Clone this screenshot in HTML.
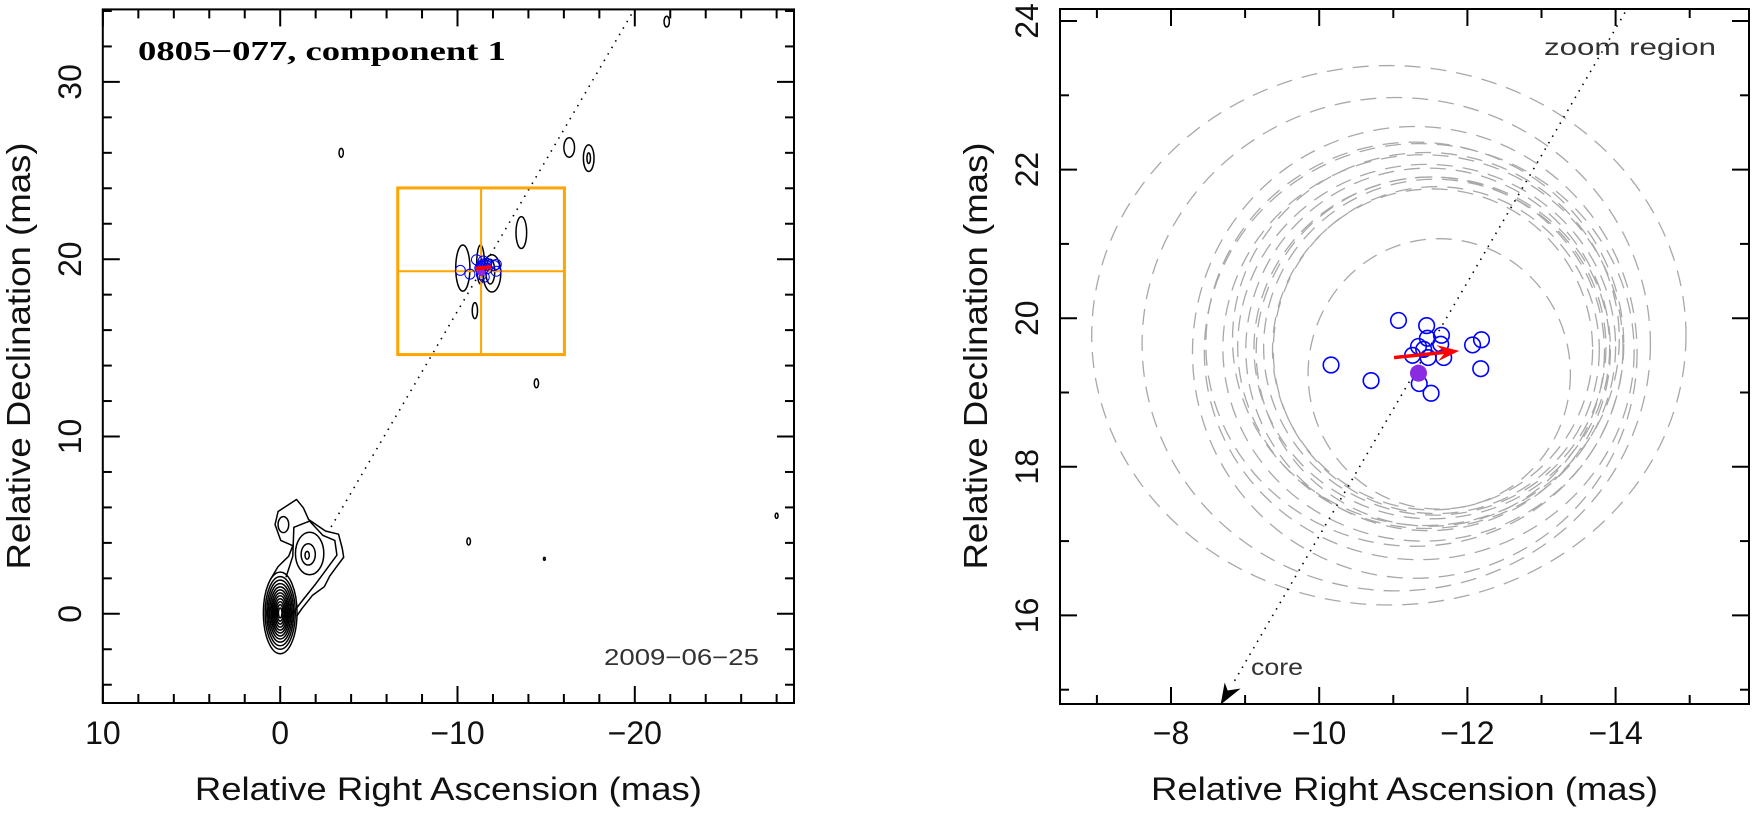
<!DOCTYPE html>
<html><head><meta charset="utf-8">
<style>
html,body{margin:0;padding:0;background:#fff;}
svg{display:block;font-family:"Liberation Sans",sans-serif;}
</style></head>
<body>
<svg id="fig" width="1753" height="817" viewBox="0 0 1753 817" xmlns="http://www.w3.org/2000/svg">
<g id="left"></g>
<g id="right"></g>
</svg>
<script>
// ---- data ----
const blueRA  = [-11.07,-11.45,-11.46,-11.65,-11.64,-11.34,-11.41,-11.26,-11.47,-11.68,-12.07,-12.19,-12.18,-10.16,-10.70,-11.35,-11.51];
const blueDec = [19.97,19.90,19.73,19.77,19.65,19.62,19.58,19.50,19.47,19.47,19.64,19.71,19.32,19.37,19.16,19.12,18.99];
const meanPos = [-11.34, 19.26];
const arrowFrom = [-11.01, 19.47];
const arrowTo = [-11.89, 19.56];
const ellRA  = [-10.94,-11.04,-11.29,-11.29,-11.44,-11.47,-11.56,-11.53,-11.62,-11.40,-11.50,-11.45,-11.52,-11.35,-11.58];
const ellDec = [19.77,19.65,19.54,19.65,19.72,19.58,19.61,19.58,19.25,19.60,19.55,19.62,19.60,19.55,19.57];
const ellRx  = [4.01,3.43,3.00,2.82,2.61,2.46,2.31,2.16,1.77,2.70,2.35,2.55,2.40,2.90,2.20];
const ellRy  = [3.63,3.32,3.04,2.72,2.51,2.44,2.26,2.16,1.82,2.60,2.35,2.45,2.30,2.80,2.20];
const jetDecPerRA = -1.707;
const boxCenter = [-11.33, 19.32];
const boxHalf = 4.7;
const leftXTicks = [10,0,-10,-20];
const leftYTicks = [0,10,20,30];
const rightXTicks = [-8,-10,-12,-14];
const rightYTicks = [16,18,20,22,24];
// contour polylines (RA, Dec)
const jetOuter = [[0.56,1.92],[0.12,2.66],[-0.48,3.25],[-0.71,3.84],[-0.03,4.14],[0.29,5.03],[0.12,5.77],[-0.92,6.45],[-1.31,5.97],[-1.60,5.32],[-2.55,4.67],[-3.29,4.49],[-3.50,3.69],[-3.58,3.19],[-3.14,2.60],[-2.79,2.12],[-2.49,1.53],[-1.81,1.03],[-1.22,0.29],[-0.92,-0.15]];
const jetInner = [[-0.33,2.07],[-0.71,3.25],[-0.77,4.88],[-1.66,5.23],[-2.40,4.43],[-3.08,4.14],[-3.20,3.31],[-2.61,2.51],[-2.02,1.71],[-1.31,0.82],[-0.71,0.05]];
// blobs: ra, dec, rx, ry
const blobRA  = [-1.66,-1.58,-1.52,-0.18,-10.30,-11.94,-11.85,-11.30,-10.98,-13.60,-16.30,-17.40,-17.40,-21.80,-3.44,-14.45,-10.63,-14.90,-28.00];
const blobDec = [3.40,3.35,3.30,5.03,19.50,19.20,19.30,19.70,17.10,21.50,26.30,25.70,25.70,33.40,26.00,13.00,4.08,3.10,5.53];
const blobRx  = [0.80,0.40,0.12,0.30,0.40,0.50,0.25,0.22,0.15,0.30,0.30,0.30,0.10,0.15,0.12,0.12,0.10,0.05,0.08];
const blobRy  = [1.20,0.60,0.22,0.45,1.30,1.05,0.70,1.10,0.45,0.90,0.55,0.75,0.30,0.30,0.25,0.25,0.20,0.08,0.15];
const coreRx = [0.95,0.85,0.76,0.68,0.60,0.52,0.45,0.38,0.31,0.24,0.17,0.10];
const coreRy = [2.30,2.05,1.85,1.65,1.47,1.30,1.13,0.97,0.80,0.63,0.46,0.28];

const NS="http://www.w3.org/2000/svg";
function mk(tag, attrs, parent, txt){
  const e=document.createElementNS(NS,tag);
  for(const k in attrs) e.setAttribute(k,attrs[k]);
  if(txt!==undefined) e.textContent=txt;
  parent.appendChild(e); return e;
}
// ---- scales ----
const L={x0:102.8,x1:794,y0:9.4,y1:703,sx:v=>280.2-v*17.73,sy:v=>613.8-v*17.73,k:17.73};
const R={x0:1060,x1:1749,y0:9,y1:704,sx:v=>1171-(v+8)*74.1,sy:v=>21+(24-v)*74.3,kx:74.1,ky:74.3};

function axes(g,P,xt,yt,xmin,xmax,ymin,ymax,majX,majY,step){
  const a=mk('g',{},g);
  
  
  for(let v=Math.ceil(xmin/step)*step; v<=xmax+1e-9; v+=step){
    const x=P.sx(v), big=Math.abs(v/majX-Math.round(v/majX))<1e-6, len=big?17:9;
    mk('line',{x1:x,x2:x,y1:P.y1,y2:P.y1-len,stroke:'#000','stroke-width':2},a);
    mk('line',{x1:x,x2:x,y1:P.y0,y2:P.y0+len,stroke:'#000','stroke-width':2},a);
  }
  for(let v=Math.ceil(ymin/step)*step; v<=ymax+1e-9; v+=step){
    const y=P.sy(v), big=Math.abs(v/majY-Math.round(v/majY))<1e-6, len=big?17:9;
    mk('line',{y1:y,y2:y,x1:P.x0,x2:P.x0+len,stroke:'#000','stroke-width':2},a);
    mk('line',{y1:y,y2:y,x1:P.x1,x2:P.x1-len,stroke:'#000','stroke-width':2},a);
  }
  const fr=mk('rect',{x:P.x0,y:P.y0,width:P.x1-P.x0,height:P.y1-P.y0,fill:'none',stroke:'#000','stroke-width':2},g);
  
  
  xt.forEach(v=>{
    const t=mk('text',{x:P.sx(v),y:744,'font-size':32,'text-anchor':'middle',fill:'#111'},g,(v<0?'\u2212'+(-v):String(v)));
    
    
  });
  yt.forEach(v=>{
    const y=P.sy(v), x=P.x0-22;
    const t=mk('text',{x:x,y:y,'font-size':32,'text-anchor':'middle',fill:'#111',transform:`rotate(-90 ${x} ${y})`},g,String(v));
    
    
  });
  const cx=(P.x0+P.x1)/2;
  const xtitle=mk('text',{x:cx,y:800,'font-size':32,'text-anchor':'middle',fill:'#111',textLength:507,lengthAdjust:'spacingAndGlyphs'},g,'Relative Right Ascension (mas)');
  
  
  const ty=356, tx=P.x0-73;
  const ytitle=mk('text',{x:tx,y:ty,'font-size':33,'text-anchor':'middle',fill:'#111',textLength:427,lengthAdjust:'spacingAndGlyphs',transform:`rotate(-90 ${tx} ${ty})`},g,'Relative Declination (mas)');
  
  
}
function smoothPath(pts,P,closed){
  const p=pts.map(q=>[P.sx(q[0]),P.sy(q[1])]);
  let d=`M${p[0][0]},${p[0][1]}`;
  for(let i=1;i<p.length;i++){d+=` L${p[i][0]},${p[i][1]}`;}
  if(closed) d+='Z';
  return d;
}

// ---- LEFT PANEL ----
const gl=document.getElementById('left');
const clipL=mk('clipPath',{id:'cl'},gl); mk('rect',{x:L.x0,y:L.y0,width:L.x1-L.x0,height:L.y1-L.y0},clipL);
const cL=mk('g',{'clip-path':'url(#cl)'},gl);
{
  const d0=4.9, d1=35;
  const ln=mk('line',{x1:L.sx(d0/jetDecPerRA),y1:L.sy(d0),x2:L.sx(d1/jetDecPerRA),y2:L.sy(d1),stroke:'#000','stroke-width':1.6,'stroke-dasharray':'1.5 6'},cL);
  
  
}
const cg=mk('g',{fill:'none',stroke:'#000','stroke-width':1.5,'stroke-linejoin':'round'},cL);


mk('path',{d:smoothPath(jetOuter,L,false)},cg);
mk('path',{d:smoothPath(jetInner,L,false)},cg);
coreRx.forEach((rx,i)=>{
  const e=mk('ellipse',{cx:L.sx(0.0),cy:L.sy(0.05),rx:rx*L.k,ry:coreRy[i]*L.k},cg);
  
  
});
blobRA.forEach((ra,i)=>{
  const e=mk('ellipse',{cx:L.sx(ra),cy:L.sy(blobDec[i]),rx:blobRx[i]*L.k,ry:blobRy[i]*L.k},cg);
  
  
});
{
  const bx=L.sx(boxCenter[0]+boxHalf), bx2=L.sx(boxCenter[0]-boxHalf);
  const by=L.sy(boxCenter[1]+boxHalf), by2=L.sy(boxCenter[1]-boxHalf);
  const b=mk('rect',{x:bx,y:by,width:bx2-bx,height:by2-by,fill:'none',stroke:'#ffa500','stroke-width':3},cL);
  
  
  const h=mk('line',{x1:bx,x2:bx2,y1:L.sy(boxCenter[1]),y2:L.sy(boxCenter[1]),stroke:'#ffa500','stroke-width':2},cL);
  
  
  const v=mk('line',{y1:by,y2:by2,x1:L.sx(boxCenter[0]),x2:L.sx(boxCenter[0]),stroke:'#ffa500','stroke-width':2},cL);
  
  
}
blueRA.forEach((ra,i)=>{
  const c=mk('circle',{cx:L.sx(ra),cy:L.sy(blueDec[i]),r:5,fill:'none',stroke:'#0000ff','stroke-width':1},cL);
  
  
});
{
  const m=mk('circle',{cx:L.sx(meanPos[0]),cy:L.sy(meanPos[1]),r:4,fill:'#8a2be2'},cL);
  
  
  const a=mk('line',{x1:L.sx(arrowFrom[0]),y1:L.sy(arrowFrom[1]),x2:L.sx(arrowTo[0]),y2:L.sy(arrowTo[1]),stroke:'#ff0000','stroke-width':4},cL);
  
  
}
axes(gl,L,leftXTicks,leftYTicks,-28.99,10,-5,34.09,10,10,2);
{
  const t=mk('text',{x:138,y:60,'font-size':27,'font-family':'"Liberation Serif",serif','font-weight':'bold',fill:'#000',textLength:368,lengthAdjust:'spacingAndGlyphs'},gl,'0805\u2212077, component 1');
  
  
  const d=mk('text',{x:604,y:665,'font-size':23,fill:'#333',textLength:155,lengthAdjust:'spacingAndGlyphs'},gl,'2009\u221206\u221225');
  
  
}

// ---- RIGHT PANEL ----
const gr=document.getElementById('right');
const clipR=mk('clipPath',{id:'cr'},gr); mk('rect',{x:R.x0,y:R.y0,width:R.x1-R.x0,height:R.y1-R.y0},clipR);
const cR=mk('g',{'clip-path':'url(#cr)'},gr);
ellRA.forEach((ra,i)=>{
  const e=mk('ellipse',{cx:R.sx(ra),cy:R.sy(ellDec[i]),rx:ellRx[i]*R.kx,ry:ellRy[i]*R.ky,fill:'none',stroke:'#a8a8a8','stroke-width':1.3,'stroke-dasharray':'16 10'},cR);
  
  
});
{
  const d0=15.12, d1=24.3;
  const ln=mk('line',{x1:R.sx(d0/jetDecPerRA),y1:R.sy(d0),x2:R.sx(d1/jetDecPerRA),y2:R.sy(d1),stroke:'#000','stroke-width':1.6,'stroke-dasharray':'1.5 6'},cR);
  
  
  const tx=R.sx(14.8/jetDecPerRA), ty=R.sy(14.8);
  const ah=mk('path',{d:`M${tx},${ty} l4,-22 l3,8 l13,-2 z`,fill:'#000'},cR);
  
  
}
blueRA.forEach((ra,i)=>{
  const c=mk('circle',{cx:R.sx(ra),cy:R.sy(blueDec[i]),r:7.8,fill:'none',stroke:'#0000ff','stroke-width':1.6},cR);
  
  
});
{
  const m=mk('circle',{cx:R.sx(meanPos[0]),cy:R.sy(meanPos[1]),r:8.5,fill:'#8a2be2'},cR);
  
  
  const x1=R.sx(arrowFrom[0]),y1=R.sy(arrowFrom[1]),x2=R.sx(arrowTo[0]),y2=R.sy(arrowTo[1]);
  const ang=Math.atan2(y2-y1,x2-x1);
  const a=mk('line',{x1:x1,y1:y1,x2:x2-10*Math.cos(ang),y2:y2-10*Math.sin(ang),stroke:'#ff0000','stroke-width':3.5},cR);
  
  
  const hx=x2,hy=y2, L1=22, W=8;
  const bxp=hx-L1*Math.cos(ang), byp=hy-L1*Math.sin(ang);
  const px=-Math.sin(ang)*W, py=Math.cos(ang)*W;
  const h=mk('path',{d:`M${hx},${hy} L${bxp+px},${byp+py} L${hx-14*Math.cos(ang)},${hy-14*Math.sin(ang)} L${bxp-px},${byp-py} Z`,fill:'#ff0000'},cR);
  
  
}
axes(gr,R,rightXTicks,rightYTicks,-15.8,-6.5,14.78,24.15,2,2,1);
{
  const z=mk('text',{x:1544,y:55,'font-size':23,fill:'#333',textLength:172,lengthAdjust:'spacingAndGlyphs'},gr,'zoom region');
  
  
  const c=mk('text',{x:1251,y:675,'font-size':23,fill:'#333',textLength:52,lengthAdjust:'spacingAndGlyphs'},gr,'core');
  
  
}
</script>
</body></html>
